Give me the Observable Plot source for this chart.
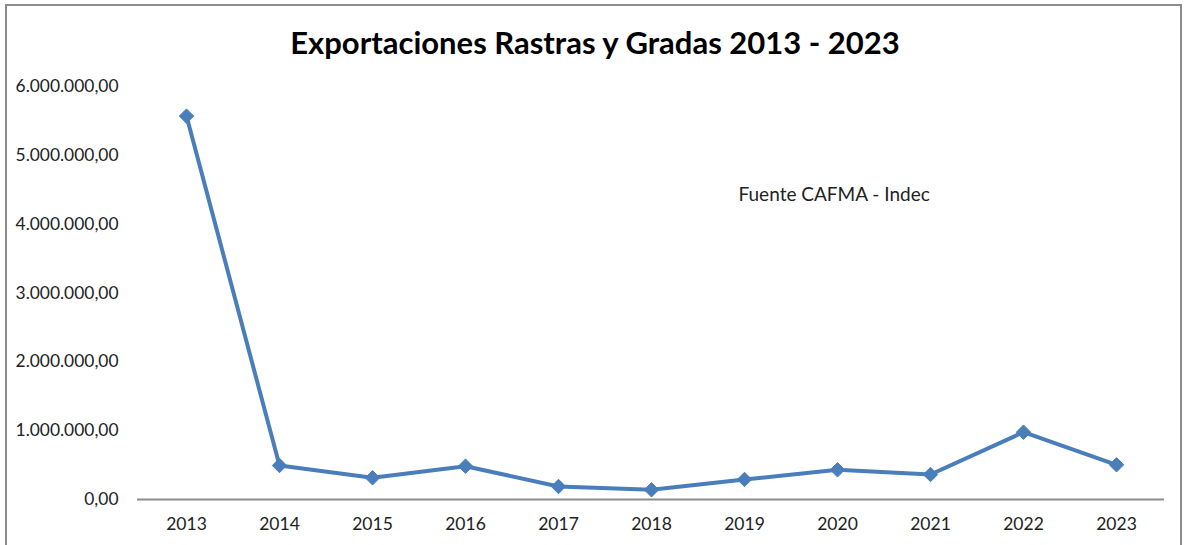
<!DOCTYPE html>
<html>
<head>
<meta charset="utf-8">
<script src="https://cdn.jsdelivr.net/npm/d3@7"></script>
<script src="https://cdn.jsdelivr.net/npm/@observablehq/plot@0.6"></script>
<style>
  html, body { margin: 0; padding: 0; background: #fff; width: 1184px; height: 545px; overflow: hidden; }
  #border { position: absolute; left: 5px; top: 4px; width: 1173px; height: 600px; border: 2px solid #8c8c8c; pointer-events: none; }
  #title { position: absolute; left: 0; top: 0; width: 1190px; height: 70px; text-align: center;
           font-family: Lato, "Noto Sans", sans-serif; font-weight: bold; font-size: 31px; line-height: 84px; color: #000; }
  #chart { position: absolute; left: 0; top: 70px; }
  #chart svg g[aria-label="x-axis tick label"] text { font-size: 17.5px; }
</style>
</head>
<body>
<div id="title">Exportaciones Rastras y Gradas 2013 - 2023</div>
<div id="chart"></div>
<div id="border"></div>
<script>
const years = ["2013","2014","2015","2016","2017","2018","2019","2020","2021","2022","2023"];
const exportValues = [5570000, 494000, 315000, 484000, 189000, 141000, 291000, 432000, 363000, 978000, 504000];
const yTicks = [0, 1000000, 2000000, 3000000, 4000000, 5000000, 6000000];
const sourceNote = "Fuente CAFMA - Indec";

const data = years.map((y, i) => ({year: y, value: exportValues[i]}));
const es = d3.formatLocale({decimal: ",", thousands: ".", grouping: [3], currency: ["$", ""]});
const fmt = es.format(",.2f");

const chart = Plot.plot({
  width: 1184,
  height: 475,
  marginTop: 16,
  marginBottom: 46,
  marginLeft: 137,
  marginRight: 20,
  style: {fontFamily: "Lato, 'Noto Sans', sans-serif", fontSize: "17.4px", color: "#222", background: "transparent"},
  x: {type: "point", domain: years, padding: 0.5, label: null, tickSize: 0, tickPadding: 18},
  y: {domain: [0, 6000000], ticks: yTicks, tickFormat: fmt, label: null, tickSize: 0, tickPadding: 19},
  marks: [
    Plot.ruleY([0], {stroke: "#8c8c8c", strokeWidth: 2}),
    Plot.line(data, {x: "year", y: "value", stroke: "#4a7ebb", strokeWidth: 4}),
    Plot.dot(data, {x: "year", y: "value", symbol: "diamond2", fill: "#4a7ebb", stroke: "#4a7ebb", strokeWidth: 1, r: 6.5}),
    Plot.text([{year: "2019", value: 4430000, t: sourceNote}], {x: "year", y: "value", text: "t", textAnchor: "start", dx: -6, fontSize: 19, fill: "#222"})
  ]
});
document.getElementById("chart").appendChild(chart);
</script>
</body>
</html>
